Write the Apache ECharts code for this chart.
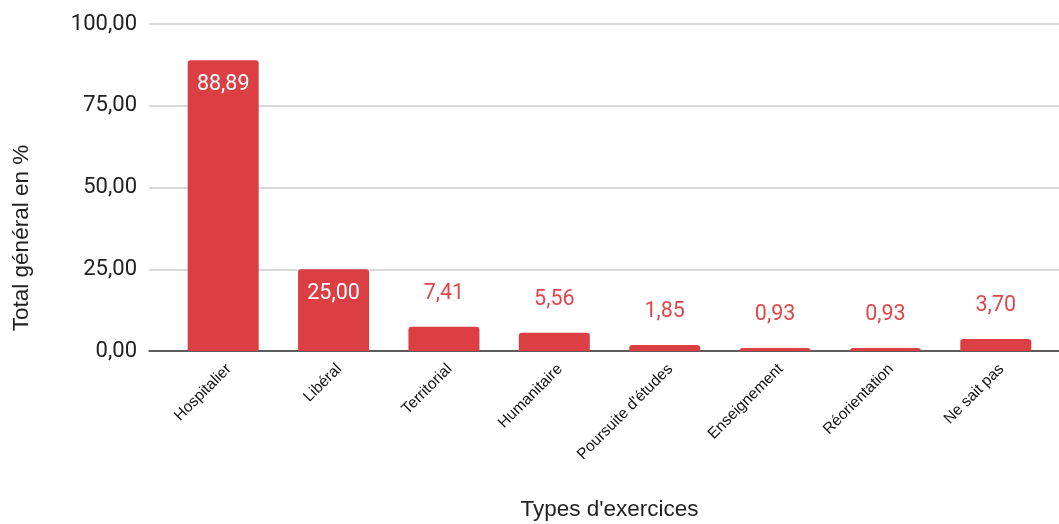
<!DOCTYPE html>
<html><head><meta charset="utf-8">
<script src="https://cdn.jsdelivr.net/npm/echarts@6/dist/echarts.min.js"></script>
<style>html,body{margin:0;padding:0;background:#fff}#c{width:1059px;height:524px}</style>
</head><body><div id="c"></div>
<script>
var categories = ['Hospitalier', 'Libéral', 'Territorial', 'Humanitaire', "Poursuite d'études", 'Enseignement', 'Réorientation', 'Ne sait pas'];
var values = [88.89, 25.00, 7.41, 5.56, 1.85, 0.93, 0.93, 3.70];
var yTicks = [0, 25, 50, 75, 100];
var xTitle = "Types d'exercices";
var yTitle = 'Total général en %';

function fmt(v){ return Number(v).toFixed(2).replace('.', ','); }
var barColor = '#db3f43';
var data = values.map(function(v){
  var inside = v > 20;
  return {
    value: v,
    label: inside ? {position: 'insideTop', distance: 13, color: '#ffffff'}
                  : {position: 'top', distance: 22, color: '#e0474b'}
  };
});

var chart = echarts.init(document.getElementById('c'), null, {renderer: 'canvas'});
chart.setOption({
  animation: false,
  grid: [
    {left: 168, right: 8, top: 24, bottom: 173, containLabel: false, outerBoundsMode: 'none'},
    {left: 149, right: 0, top: 24, bottom: 173, containLabel: false, outerBoundsMode: 'none'}
  ],
  xAxis: [
    {gridIndex: 0, type: 'category', data: categories,
     axisLine: {show: false}, axisTick: {show: false},
     axisLabel: {rotate: 45, interval: 0, margin: 10, verticalAlign: 'top', fontFamily: 'Liberation Sans, Arial, sans-serif', fontSize: 15.5, color: '#111'},
     name: xTitle, nameLocation: 'middle', nameGap: 147,
     nameTextStyle: {fontFamily: 'Liberation Sans, Arial, sans-serif', fontSize: 22.5, color: '#222'}},
    {gridIndex: 1, type: 'category', data: [''],
     axisLine: {show: true, lineStyle: {color: '#333', width: 1.5}}, axisTick: {show: false}, axisLabel: {show: false}}
  ],
  yAxis: [
    {gridIndex: 0, type: 'value', min: yTicks[0], max: yTicks[yTicks.length-1], interval: 25,
     axisLabel: {show: false}, splitLine: {show: false}, axisLine: {show: false}, axisTick: {show: false}},
    {gridIndex: 1, type: 'value', min: yTicks[0], max: yTicks[yTicks.length-1], interval: 25,
     axisLine: {show: false}, axisTick: {show: false},
     splitLine: {show: true, lineStyle: {color: '#cccccc', width: 1.5}},
     axisLabel: {margin: 12, fontFamily: 'Roboto, sans-serif', fontSize: 22, color: '#222', formatter: fmt}}
  ],
  graphic: [{
    type: 'text', x: 22, y: 238, rotation: Math.PI / 2,
    style: {text: yTitle, fontFamily: 'Liberation Sans, Arial, sans-serif', fontSize: 22.5, fill: '#222', align: 'center', verticalAlign: 'middle'}
  }],
  series: [{
    type: 'bar', xAxisIndex: 0, yAxisIndex: 0, z: 3,
    data: data, barWidth: 71,
    itemStyle: {color: barColor, borderRadius: [3, 3, 0, 0]},
    label: {show: true, fontFamily: 'Roboto, sans-serif', fontSize: 21.5, formatter: function(p){ return fmt(p.value); }}
  }]
});
</script></body></html>
